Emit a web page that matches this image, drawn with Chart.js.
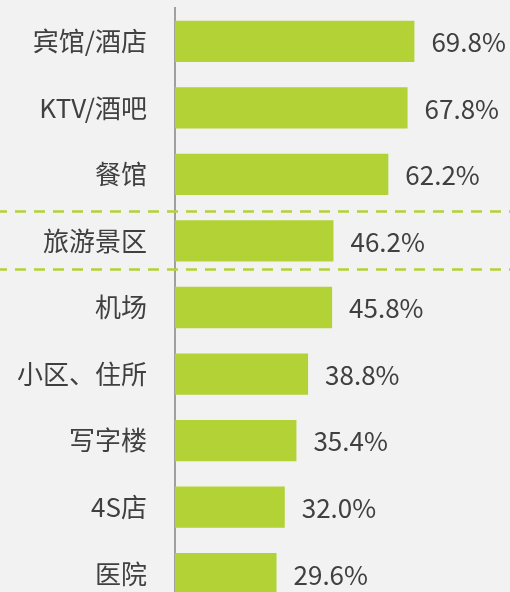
<!DOCTYPE html>
<html>
<head>
<meta charset="utf-8">
<script src="https://cdn.jsdelivr.net/npm/chart.js@4/dist/chart.umd.min.js"></script>
<style>
  html, body { margin: 0; padding: 0; background: #f2f2f2; overflow: hidden; }
  #wrap { width: 510px; height: 592px; overflow: hidden; }
</style>
</head>
<body>
<div id="wrap"><canvas id="venueChart" width="518" height="607"></canvas></div>
<script>
const venues  = ['宾馆/酒店', 'KTV/酒吧', '餐馆', '旅游景区', '机场', '小区、住所', '写字楼', '4S店', '医院'];
const shares  = [69.8, 67.8, 62.2, 46.2, 45.8, 38.8, 35.4, 32.0, 29.6];
const groupBreaks = [2.545, 3.42];   // dashed separators between groups (category index)

const fontName  = '"Noto Sans CJK SC", "Noto Sans", sans-serif';
const barGreen  = '#b2d235';
const textGrey  = '#404040';

// value labels right of each bar
const valueLabels = {
  id: 'valueLabels',
  afterDatasetsDraw(chart) 
  {
    const ctx  = chart.ctx;
    const meta = chart.getDatasetMeta(0);
    ctx.save();
    ctx.font         = '26px ' + fontName;
    ctx.fillStyle    = textGrey;
    ctx.textAlign    = 'left';
    ctx.textBaseline = 'middle';
    meta.data.forEach((bar, i) => {
      ctx.fillText(shares[i].toFixed(1) + '%', bar.x + 17, bar.y + 1);
    });
    ctx.restore();
  }
};

// green dashed separators across the full width
const groupLines = {
  id: 'groupLines',
  afterDraw(chart) 
  {
    const ctx = chart.ctx;
    const y   = chart.scales.y;
    ctx.save();
    ctx.strokeStyle = barGreen;
    ctx.lineWidth   = 2.5;
    ctx.setLineDash([11, 8]);
    groupBreaks.forEach(v => {
      const py = Math.round(y.getPixelForValue(v)) + 0.5;
      ctx.beginPath();
      ctx.moveTo(-4, py);
      ctx.lineTo(chart.width, py);
      ctx.stroke();
    });
    ctx.restore();
  }
};

const ctx = document.getElementById('venueChart').getContext('2d');
new Chart(ctx, {
  type: 'bar',
  data: {
    labels: venues,
    datasets: [{ data: shares, backgroundColor: barGreen, borderWidth: 0, barPercentage: 0.62, categoryPercentage: 1 }]
  },
  options: {
    indexAxis: 'y',
    responsive: false,
    animation: false,
    layout: { autoPadding: false, padding: { top: 8, bottom: 0, left: 0, right: 0 } },
    plugins: { legend: { display: false }, tooltip: { enabled: false } },
    scales: {
      x: { display: false, min: 0, max: 100 },
      y: {
        grid:   { display: false, drawTicks: false },
        border: { display: true, color: '#a0a0a0', width: 2 },
        ticks:  { color: textGrey, padding: 28, font: { family: fontName, size: 26 } },
        afterFit(scale) 
        {
          // fixed label column, no extra top/bottom room for tick labels
          scale.width = 175;
          scale.paddingTop = 0;
          scale.paddingBottom = 0;
        }
      }
    }
  },
  plugins: [valueLabels, groupLines]
});
</script>
</body>
</html>
